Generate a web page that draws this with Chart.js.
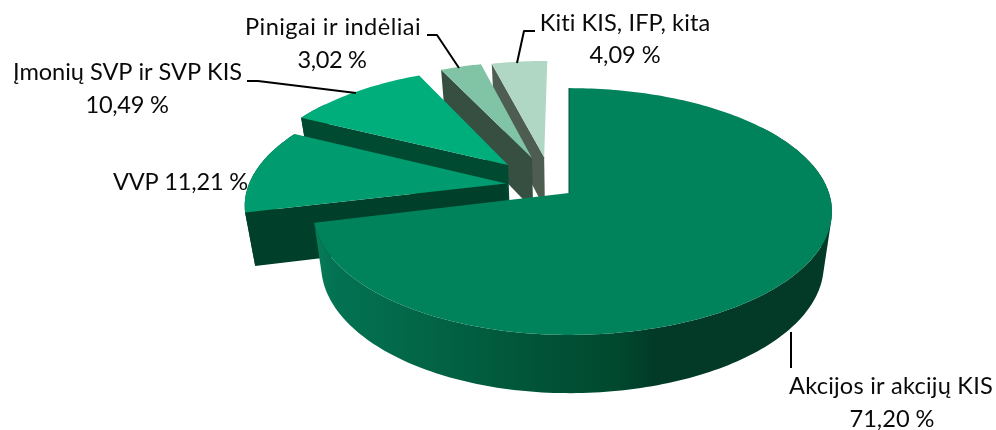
<!DOCTYPE html>
<html>
<head>
<meta charset="utf-8">
<style>html,body{margin:0;padding:0;background:#fff}#wrap{width:996px;height:430px;position:relative}</style>
<script src="https://cdn.jsdelivr.net/npm/chart.js@4"></script>
</head>
<body>
<div id="wrap"><canvas id="c" width="996" height="430"></canvas></div>
<script>
const categories = ["Akcijos ir akcijų KIS", "VVP", "Įmonių SVP ir SVP KIS", "Pinigai ir indėliai", "Kiti KIS, IFP, kita"];
const values = [71.20, 11.21, 10.49, 3.02, 4.09];
const valueLabels = ["71,20 %", "11,21 %", "10,49 %", "3,02 %", "4,09 %"];
const topColors = ["#00825b", "#009b6e", "#00ae7b", "#80c4a5", "#b0d7c3"];
const wallColors = ["#023a27", "#003f29", "#004a32", "#374f41", "#4d5d50"];

// Layout of the 3D view (plane units are pie radii)
const view = {
  persp: 0.15, top: {rx: 1.347, ry: 0.625, dy: 0}, low: {rx: 1.305, ry: 0.648, dy: 53},
  shift: [[0, 0], [-0.245, -0.08], [-0.243, -0.24], [-0.149, -0.304], [-0.1, -0.31]],
  leftSqueeze: [0.973, 1, 1, 1, 1]
};
// text, centre x, baseline y, width on the page
const labels = [
  {lines: [[categories[0], 891, 394, 204], [valueLabels[0], 892, 427, 85]], leader: [[791, 332], [791, 368]]},
  {lines: [[categories[1] + " " + valueLabels[1], 180.5, 190, 135]], leader: []},
  {lines: [[categories[2], 127.5, 80, 229], [valueLabels[2], 127, 113, 83]], leader: [[247, 81], [258, 81], [356, 93]]},
  {lines: [[categories[3], 333, 35, 176], [valueLabels[3], 332, 68, 69]], leader: [[427, 35], [437, 35], [459, 68]]},
  {lines: [[categories[4], 625, 31, 171], [valueLabels[4], 625, 63, 71]], leader: [[535, 31], [524, 31], [517, 63]]}
];

const pie3d = {
  id: 'pie3d',
  beforeDatasetsDraw(chart) {
    const ctx = chart.ctx, els = chart.getDatasetMeta(0).data;
    const map = (u, v, plane, el, squeeze) => {
      const w = 1 - view.persp * v, R = el.outerRadius;
      const rx = plane.rx * R * (u < 0 ? squeeze : 1);
      return [el.x + rx * u / w, el.y + plane.dy + plane.ry * R * v / w];
    };
    const area = pts => pts.reduce((s, p, i) => { const q = pts[(i + 1) % pts.length]; return s + p[0] * q[1] - q[0] * p[1]; }, 0);
    const addPoly = pts => {
      // same winding for every strip, so overlapping strips never cancel out
      const ordered = area(pts) < 0 ? pts.slice().reverse() : pts;
      ordered.forEach((p, i) => i ? ctx.lineTo(p[0], p[1]) : ctx.moveTo(p[0], p[1]));
      ctx.closePath();
    };
    const path = pts => { ctx.beginPath(); addPoly(pts); };
    // painter's order: back slices first, the big front slice last
    for (let i = els.length - 1; i >= 0; i--) {
      const el = els[i], p = el.getProps(['startAngle', 'endAngle', 'x', 'y', 'outerRadius'], true);
      const [su, sv] = view.shift[i], q = view.leftSqueeze[i];
      const n = Math.max(6, Math.ceil((p.endAngle - p.startAngle) / 0.02));
      const rim = [], facing = [];
      for (let k = 0; k <= n; k++) {
        const a = p.startAngle + (p.endAngle - p.startAngle) * k / n;
        rim.push([su + Math.cos(a), sv + Math.sin(a)]);
        facing.push(Math.sin(a) > -0.6);
      }
      const topRim = rim.map(r => map(r[0], r[1], view.top, p, q));
      const lowRim = rim.map(r => map(r[0], r[1], view.low, p, q));
      const apexTop = map(su, sv, view.top, p, q), apexLow = map(su, sv, view.low, p, q);
      let wall = wallColors[i];
      if (i === 0) {
        wall = ctx.createLinearGradient(316, 0, 832, 0);
        wall.addColorStop(0, '#077c58');
        wall.addColorStop(0.03, '#037353');
        wall.addColorStop(0.2, '#026646');
        wall.addColorStop(0.42, '#015438');
        wall.addColorStop(0.58, '#00492f');
        wall.addColorStop(0.66, '#023a27');
        wall.addColorStop(1, '#023a27');
      }
      ctx.fillStyle = wall;
      // outer wall: all strips in one path, so that the silhouette is closed without seams
      ctx.beginPath();
      for (let k = 0; k < n; k++) {
        if (facing[k] && facing[k + 1]) addPoly([topRim[k], topRim[k + 1], lowRim[k + 1], lowRim[k]]);
      }
      ctx.fill();
      // cut wall along the start edge
      path([apexTop, topRim[0], lowRim[0], apexLow]); ctx.fill();
      // top face
      ctx.fillStyle = el.options.backgroundColor;
      path([apexTop].concat(topRim)); ctx.fill();
      if (i === 0) {
        ctx.strokeStyle = '#01503a'; ctx.lineWidth = 1;
        ctx.beginPath(); ctx.moveTo(topRim[0][0], topRim[0][1]); ctx.lineTo(apexTop[0], apexTop[1]); ctx.stroke();
      }
    }
    return false; // the 3D faces replace the flat arcs
  },
  afterDraw(chart) {
    const ctx = chart.ctx;
    ctx.save();
    ctx.strokeStyle = '#000'; ctx.lineWidth = 2; ctx.lineJoin = 'round';
    labels.forEach(l => {
      if (l.leader.length) {
        ctx.beginPath();
        l.leader.forEach((p, i) => i ? ctx.lineTo(p[0], p[1]) : ctx.moveTo(p[0], p[1]));
        ctx.stroke();
      }
    });
    ctx.fillStyle = '#0a0a0a'; ctx.textAlign = 'center'; ctx.textBaseline = 'alphabetic';
    ctx.font = '23.6px Lato';
    labels.forEach(l => l.lines.forEach(t => {
      ctx.letterSpacing = '0px';
      const extra = (t[3] - ctx.measureText(t[0]).width) / t[0].length;
      ctx.letterSpacing = extra.toFixed(3) + 'px';
      ctx.fillText(t[0], t[1], t[2]);
    }));
    ctx.restore();
  }
};

new Chart(document.getElementById('c'), {
  type: 'pie',
  data: {labels: categories, datasets: [{data: values, backgroundColor: topColors, borderWidth: 0}]},
  options: {
    responsive: false, animation: false,
    layout: {padding: {left: 142, right: 0, top: 0, bottom: 44}},
    plugins: {legend: {display: false}, tooltip: {enabled: false}}
  },
  plugins: [pie3d]
});
</script>
</body>
</html>
